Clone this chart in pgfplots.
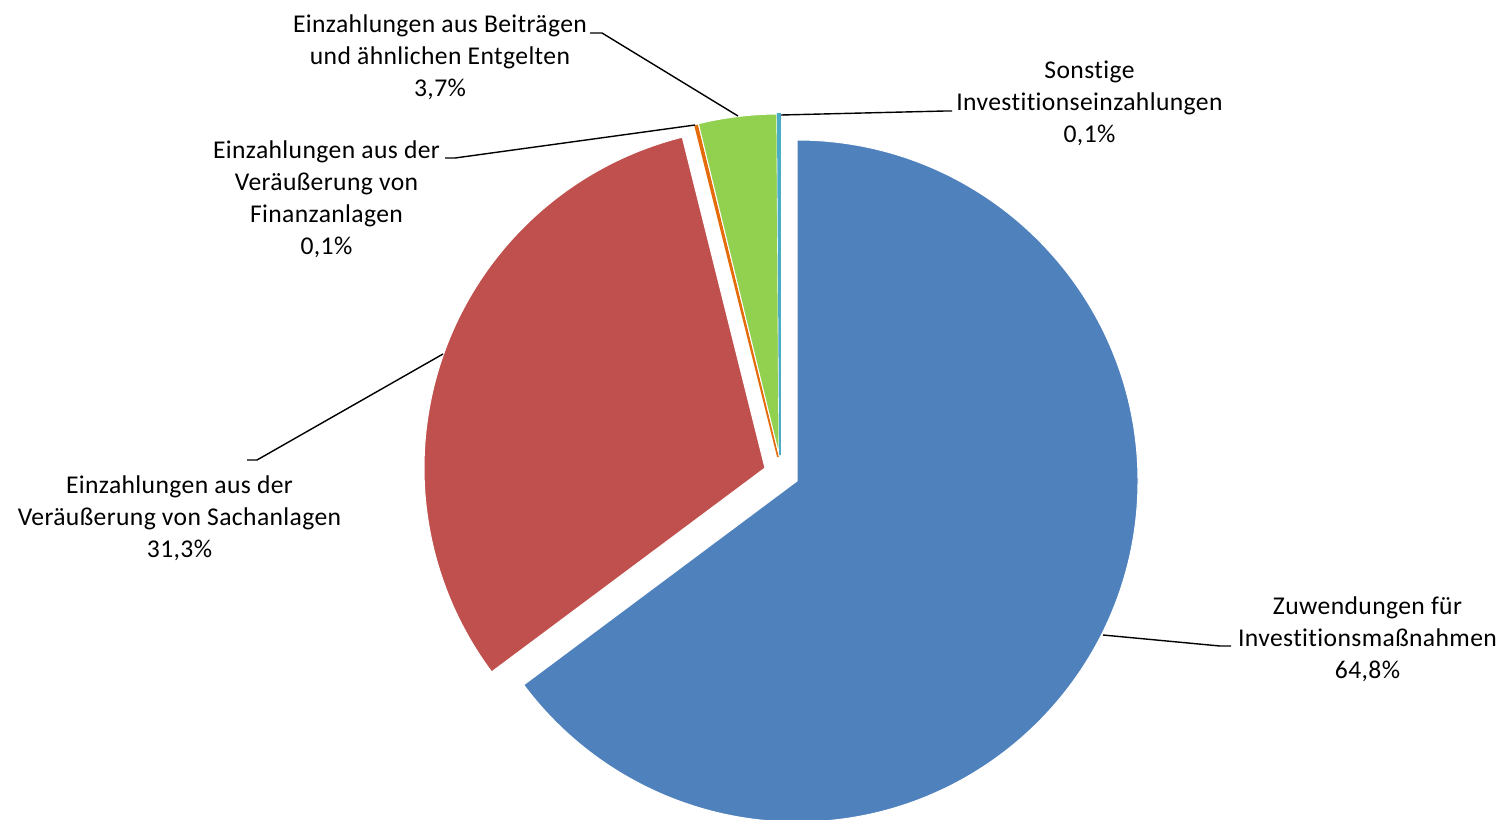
\documentclass[border=0pt]{standalone}
\usepackage{pgfplots}
\pgfplotsset{compat=1.18}
\usepackage{fontspec}
\setmainfont{Carlito}[Ligatures=NoCommon, LetterSpace=1.5]

\definecolor{sBlue}{HTML}{4F81BD}
\definecolor{sRed}{HTML}{C0504D}
\definecolor{sOrange}{HTML}{E46C0A}
\definecolor{sGreen}{HTML}{92D050}
\definecolor{sTeal}{HTML}{4BACC6}

% radius of the pie (341 px at 0.5pt per px)
\newcommand\pieR{170.5pt}
% \slice{style}{vertex x}{vertex y}{from %}{to %}
\newcommand\slice[5]{%
  \fill[#1] (axis cs:#2,#3) -- ([shift={({90-3.6*#4}:\pieR)}]axis cs:#2,#3)
    arc[start angle={90-3.6*#4}, end angle={90-3.6*#5}, radius=\pieR] -- cycle;}

\begin{document}
\begin{tikzpicture}
\begin{axis}[
  width=751.5pt, height=409.5pt, scale only axis,
  xmin=0, xmax=1503, ymin=0, ymax=819, y dir=reverse,
  hide axis,
]
% shares in percent: 64.8, 31.3, 0.1, 3.7, 0.1 (cumulated from the top, clockwise)
\slice{sBlue, draw=white, line width=0.5pt}{797}{481}{0}{64.8}
\slice{sRed, draw=white, line width=0.5pt}{765}{468}{64.8}{96.1}
\slice{sOrange, draw=sOrange, line width=0.9pt}{778}{457}{96.1}{96.2}
\slice{sGreen, draw=white, line width=0.5pt}{779}{455}{96.2}{99.9}
\slice{sTeal, draw=sTeal, line width=0.9pt}{780}{455}{99.9}{100}

\coordinate (sw) at (axis cs:0,819);
\coordinate (ne) at (axis cs:1503,0);

% leader lines
\draw[black, line width=0.7pt] (axis cs:590,33) -- (axis cs:602,33) -- (axis cs:738,116);
\draw[black, line width=0.7pt] (axis cs:781,115) -- (axis cs:945,111) -- (axis cs:952,111);
\draw[black, line width=0.7pt] (axis cs:695,125) -- (axis cs:455,158) -- (axis cs:445,158);
\draw[black, line width=0.7pt] (axis cs:443,354) -- (axis cs:257,460) -- (axis cs:247,460);
\draw[black, line width=0.7pt] (axis cs:1103,635) -- (axis cs:1220,646) -- (axis cs:1231,646);

% data labels
\tikzset{lbl/.style={align=center, font=\fontsize{12.8}{16}\selectfont, inner sep=0pt}}
\node[lbl] at (axis cs:440,57.5) {Einzahlungen aus Beiträgen\\und ähnlichen Entgelten\\3,7\%};
\node[lbl] at (axis cs:1089.5,103) {Sonstige\\Investitionseinzahlungen\\0,1\%};
\node[lbl] at (axis cs:326.5,199.5) {Einzahlungen aus der\\Veräußerung von\\Finanzanlagen\\0,1\%};
\node[lbl] at (axis cs:179.5,518) {Einzahlungen aus der\\Veräußerung von Sachanlagen\\31,3\%};
\node[lbl] at (axis cs:1367.5,639.5) {Zuwendungen für\\Investitionsmaßnahmen\\64,8\%};
\end{axis}
\pgfresetboundingbox
\path (sw) rectangle (ne);
\end{tikzpicture}
\end{document}
